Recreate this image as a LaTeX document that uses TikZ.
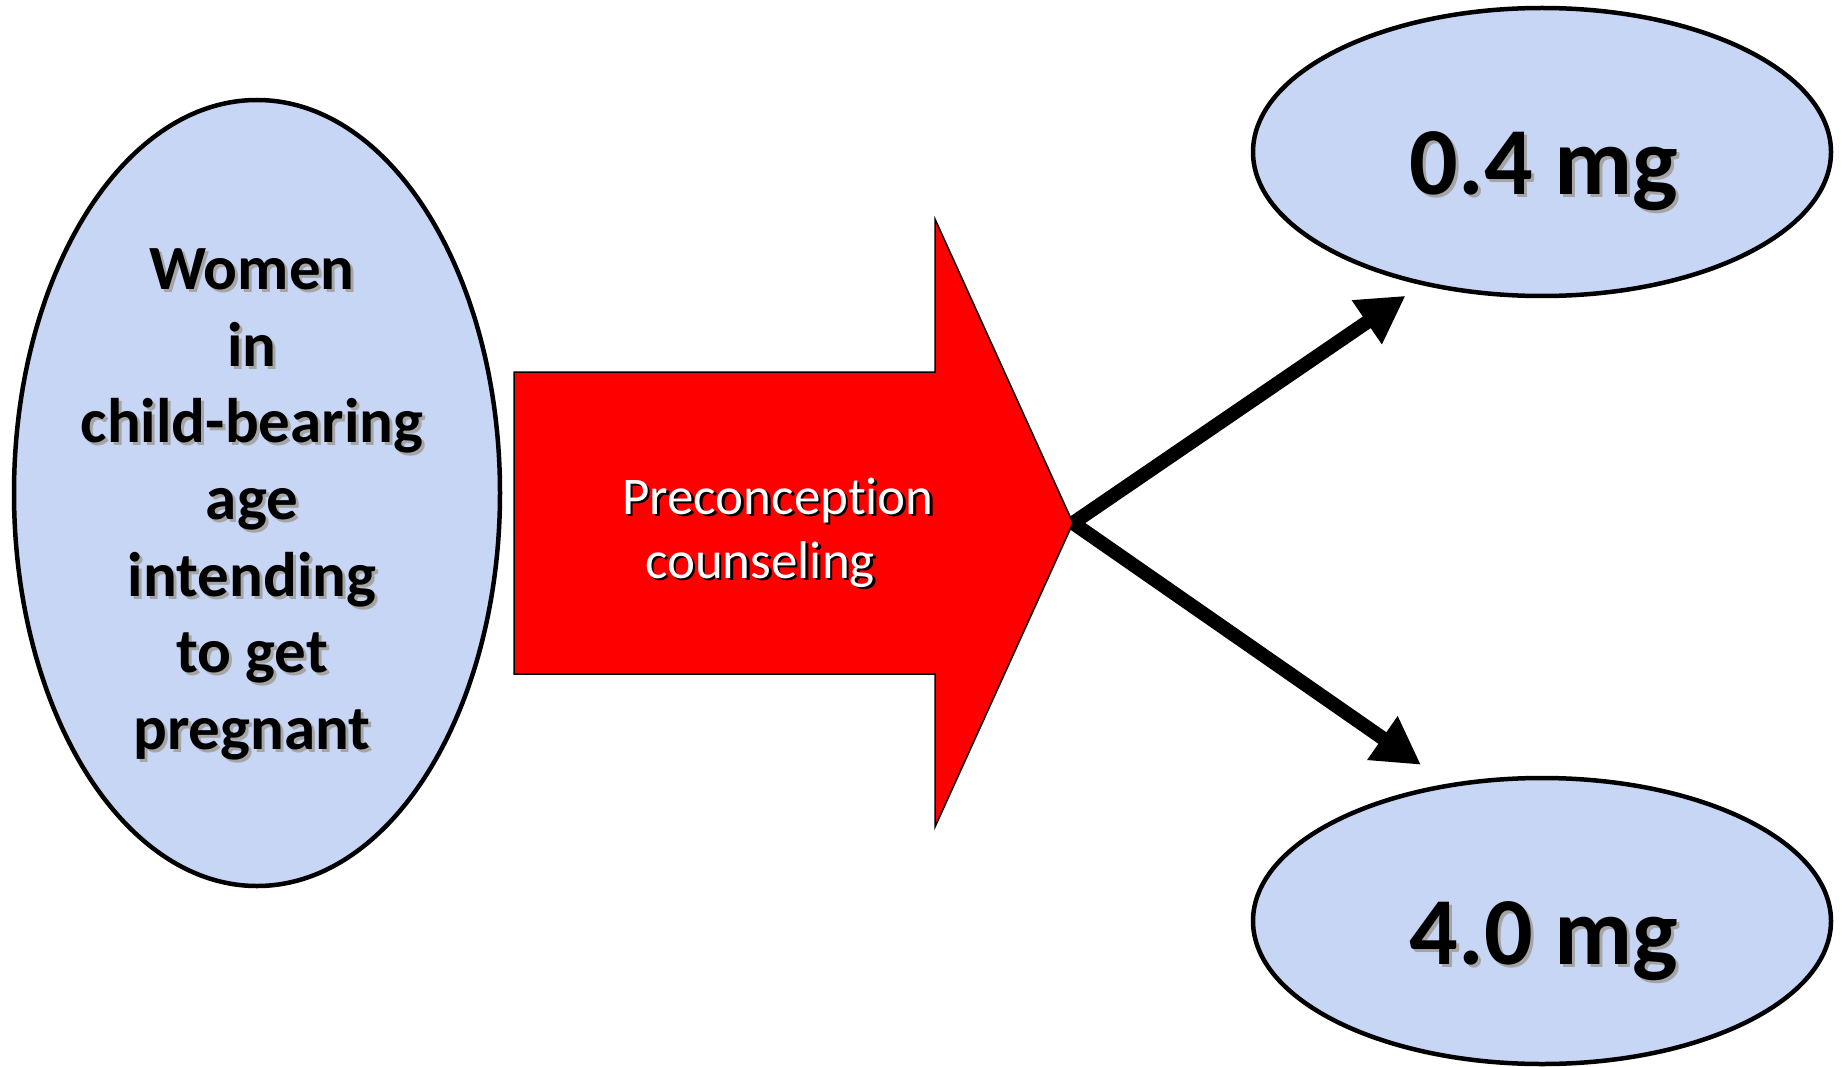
\documentclass[tikz,border=0pt]{standalone}
\usepackage{fontspec}
\setmainfont{Carlito}[Ligatures=NoCommon]
\usetikzlibrary{arrows.meta,shapes.geometric}
\definecolor{ellfill}{RGB}{200,214,245}
\definecolor{shadowgray}{RGB}{165,165,165}
\definecolor{arrowred}{RGB}{255,0,0}
\newcommand\shblack[1]{\leavevmode\rlap{\kern3pt\raisebox{-3pt}{\textcolor{shadowgray}{#1}}}#1}
\newcommand\shwhite[1]{\leavevmode\rlap{\kern2.5pt\raisebox{-2.5pt}{\textcolor{black}{#1}}}\textcolor{white}{#1}}
\tikzset{
  ell/.style={ellipse,draw=black,line width=4.5pt,fill=ellfill,inner sep=0pt,outer sep=0pt},
  bigarrow/.style={draw=black,line width=1.5pt,fill=arrowred,line join=miter},
  branch/.style={line width=14pt,-{Triangle[length=47pt,width=50pt]}},
  lefttext/.style={font=\fontsize{63}{76.7}\selectfont\bfseries,align=center,inner sep=0pt},
  dosetext/.style={font=\fontsize{96}{115}\selectfont\bfseries,inner sep=0pt},
  pctext/.style={font=\fontsize{53}{64}\selectfont,align=center,inner sep=0pt}
}
\begin{document}
\begin{tikzpicture}[x=1pt,y=-1pt]
\useasboundingbox (0,0) rectangle (1844,1067);
\node[ell,minimum width=486pt,minimum height=786pt] (women) at (257,493) {};
\node[ell,minimum width=578pt,minimum height=288pt] (low) at (1542,152) {};
\node[ell,minimum width=578pt,minimum height=286pt] (high) at (1542,921) {};
\draw[bigarrow] (514,372) -- (935,372) -- (935,219) -- (1073,523) -- (935,827) -- (935,674) -- (514,674) -- cycle;
\coordinate (tip) at (1073,523);
\node[lefttext] (womenT) at (252,506) {\shblack{Women}\\\shblack{in}\\\shblack{child-bearing}\\\shblack{age}\\\shblack{intending}\\\shblack{to get}\\\shblack{pregnant}};
\node[pctext] (pc) at (770,534) {\hspace*{16pt}\shwhite{Preconception}\\\shwhite{counseling}\hspace*{20pt}};
\node[dosetext] (lowT) at (1544,173) {\shblack{0.4 mg}};
\node[dosetext] (highT) at (1544,943) {\shblack{4.0 mg}};
\draw[branch,shorten >=22pt] (tip) -- (low.228.5);
\draw[branch,shorten >=36pt] (tip) -- (high.124.3);
\end{tikzpicture}
\end{document}
